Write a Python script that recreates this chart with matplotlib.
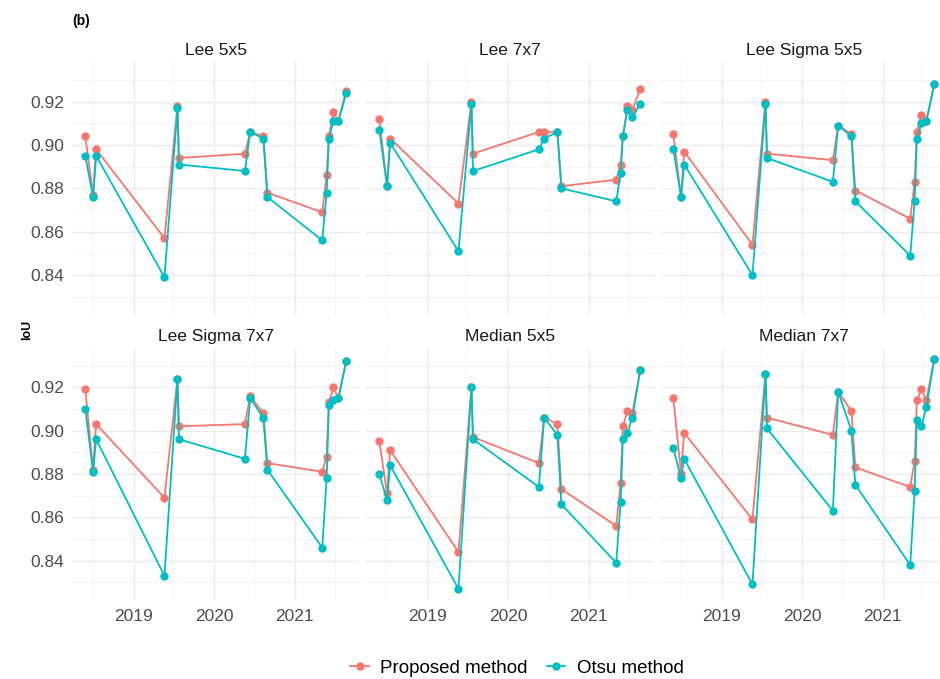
import numpy as np
import pandas as pd
import matplotlib
matplotlib.use("Agg")
import matplotlib.pyplot as plt
import matplotlib.dates as mdates
from matplotlib.lines import Line2D

plt.rcParams['font.family'] = ['Liberation Sans', 'DejaVu Sans']

# acquisition dates (shared by all panels)
dates = pd.to_datetime([
    "2018-05-27", "2018-07-01", "2018-07-15", "2019-05-21", "2019-07-19", "2019-07-26",
    "2020-05-20", "2020-06-13", "2020-08-12", "2020-08-30", "2021-05-06", "2021-05-26",
    "2021-06-05", "2021-06-26", "2021-07-18", "2021-08-23",
])

filters = ["Lee 5x5", "Lee 7x7", "Lee Sigma 5x5", "Lee Sigma 7x7", "Median 5x5", "Median 7x7"]

proposed = {
    "Lee 5x5":       [0.904, 0.877, 0.898, 0.857, 0.918, 0.894, 0.896, 0.906, 0.904, 0.878, 0.869, 0.886, 0.904, 0.915, 0.911, 0.925],
    "Lee 7x7":       [0.912, 0.881, 0.903, 0.873, 0.920, 0.896, 0.906, 0.906, 0.906, 0.881, 0.884, 0.891, 0.904, 0.918, 0.916, 0.926],
    "Lee Sigma 5x5": [0.905, 0.876, 0.897, 0.854, 0.920, 0.896, 0.893, 0.909, 0.905, 0.879, 0.866, 0.883, 0.906, 0.914, 0.911, 0.928],
    "Lee Sigma 7x7": [0.919, 0.882, 0.903, 0.869, 0.924, 0.902, 0.903, 0.916, 0.908, 0.885, 0.881, 0.888, 0.913, 0.920, 0.915, 0.932],
    "Median 5x5":    [0.895, 0.871, 0.891, 0.844, 0.920, 0.897, 0.885, 0.906, 0.903, 0.873, 0.856, 0.876, 0.902, 0.909, 0.908, 0.928],
    "Median 7x7":    [0.915, 0.880, 0.899, 0.859, 0.926, 0.906, 0.898, 0.918, 0.909, 0.883, 0.874, 0.886, 0.914, 0.919, 0.914, 0.933],
}
otsu = {
    "Lee 5x5":       [0.895, 0.876, 0.895, 0.839, 0.917, 0.891, 0.888, 0.906, 0.903, 0.876, 0.856, 0.878, 0.903, 0.911, 0.911, 0.924],
    "Lee 7x7":       [0.907, 0.881, 0.901, 0.851, 0.919, 0.888, 0.898, 0.903, 0.906, 0.880, 0.874, 0.887, 0.904, 0.916, 0.913, 0.919],
    "Lee Sigma 5x5": [0.898, 0.876, 0.891, 0.840, 0.919, 0.894, 0.883, 0.909, 0.904, 0.874, 0.849, 0.874, 0.903, 0.910, 0.911, 0.928],
    "Lee Sigma 7x7": [0.910, 0.881, 0.896, 0.833, 0.924, 0.896, 0.887, 0.915, 0.906, 0.882, 0.846, 0.878, 0.912, 0.914, 0.915, 0.932],
    "Median 5x5":    [0.880, 0.868, 0.884, 0.827, 0.920, 0.896, 0.874, 0.906, 0.898, 0.866, 0.839, 0.867, 0.896, 0.899, 0.906, 0.928],
    "Median 7x7":    [0.892, 0.878, 0.887, 0.829, 0.926, 0.901, 0.863, 0.918, 0.900, 0.875, 0.838, 0.872, 0.905, 0.902, 0.911, 0.933],
}

c_prop = "#F8766D"
c_otsu = "#00BFC4"
grid_c = "#EBEBEB"
txt_c = "#4D4D4D"
lw, ms = 1.3, 5.0

fig = plt.figure(figsize=(9.4, 6.79), dpi=100)

# fixed scales like facet_wrap default, 5% expansion
all_vals = np.concatenate([np.array(v) for v in list(proposed.values()) + list(otsu.values())])
ymin, ymax = all_vals.min(), all_vals.max()
ypad = (ymax - ymin) * 0.05
xn = mdates.date2num(dates)
xpad = (xn.max() - xn.min()) * 0.05

W, H = 940, 679
lefts = [72.3, 366.3, 660.3]
tops = [62.0, 347.6]
pw, ph = 287, 252.7

for i, name in enumerate(filters):
    r, c = divmod(i, 3)
    ax = fig.add_axes([lefts[c] / W, 1 - (tops[r] + ph) / H, pw / W, ph / H])
    ax.plot(dates, proposed[name], color=c_prop, lw=lw, marker="o", ms=ms, zorder=3)
    ax.plot(dates, otsu[name], color=c_otsu, lw=lw, marker="o", ms=ms, zorder=4)
    ax.set_xlim(xn.min() - xpad, xn.max() + xpad)
    ax.set_ylim(ymin - ypad, ymax + ypad)
    ax.set_yticks([0.84, 0.86, 0.88, 0.90, 0.92])
    ax.set_yticks([0.83, 0.85, 0.87, 0.89, 0.91, 0.93], minor=True)
    ax.xaxis.set_major_locator(mdates.YearLocator())
    ax.xaxis.set_minor_locator(mdates.MonthLocator(bymonth=7))
    ax.xaxis.set_major_formatter(mdates.DateFormatter("%Y"))
    ax.grid(True, which="major", color=grid_c, lw=1.0)
    ax.grid(True, which="minor", color="#F3F3F3", lw=0.6)
    ax.set_axisbelow(True)
    for s in ax.spines.values():
        s.set_visible(False)
    ax.tick_params(which="both", length=0, labelsize=12.5, colors=txt_c, pad=6)
    if c != 0:
        ax.tick_params(axis="y", labelleft=False)
    else:
        ax.yaxis.set_major_formatter(matplotlib.ticker.FormatStrFormatter("%.2f"))
    if r != 1:
        ax.tick_params(axis="x", labelbottom=False)
    ax.set_title(name, fontsize=12.5, color="#1A1A1A", pad=5)

fig.text(27 / W, 1 - 330 / H, "IoU", rotation=90, fontsize=9, fontweight="bold",
         ha="center", va="center")
fig.text(72 / W, 1 - 21 / H, "(b)", fontsize=10, fontweight="bold", ha="left", va="center")

handles = [
    Line2D([], [], color=c_prop, lw=lw, marker="o", ms=ms, label="Proposed method"),
    Line2D([], [], color=c_otsu, lw=lw, marker="o", ms=ms, label="Otsu method"),
]
fig.legend(handles=handles, loc="center", bbox_to_anchor=(517 / W, 1 - 668 / H), ncol=2,
           frameon=False, fontsize=13.5, handlelength=1.0, handletextpad=0.6, columnspacing=1.0)

fig.savefig("out.png", dpi=100)
